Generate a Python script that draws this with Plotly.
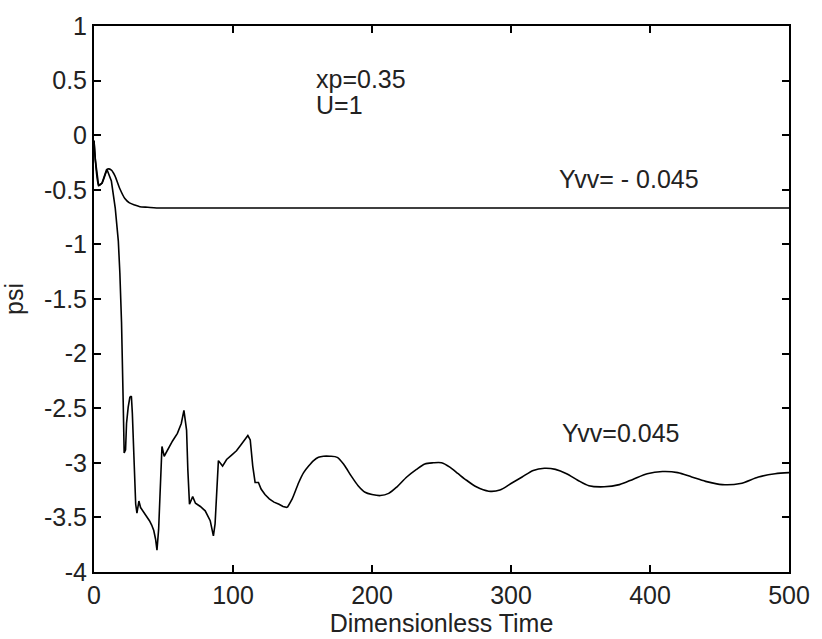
import plotly.graph_objects as go

# ---- data ----
upper_t = [0, 0.5, 1.0, 3.3, 5.7, 9.9, 12.5, 15.0, 18.6, 22.2, 25.5, 29.3, 33.0, 38.7, 45.0, 500]
upper_v = [-0.05, -0.15, -0.23, -0.46, -0.44, -0.31, -0.32, -0.37, -0.49, -0.58, -0.62, -0.64, -0.655, -0.66, -0.667, -0.667]

lower_t = [0, 1, 3.3, 5.7, 9.2, 12.5, 15.3, 17.5, 18.6, 19.8,
           21.0, 21.7, 22.7, 23.4, 24.6, 25.8, 26.9, 27.6, 28.8, 30.0,
           30.9, 32.3, 33.5, 35.2, 37.5, 39.9, 41.5, 43.0, 44.3, 45.3,
           46.5, 47.5, 48.9, 50.5, 52.9, 56.5, 60.0, 62.8, 64.7, 66.6,
           67.5, 68.7, 71.0, 73.0, 76.5, 80.0, 83.6, 85.9, 87.1, 88.3,
           89.5, 92.5, 95.4, 99.0, 102.5, 105.5, 108.4, 110.7, 112.4, 114.2,
           115.9, 118.3, 120.2, 123.0, 126.1, 129.5, 133.1, 136.0, 139.0, 142.6,
           147.3, 150.8, 154.4, 158.0, 161.5, 165.0, 169.7, 175, 180, 185,
           190, 195, 200, 206, 212, 218, 225, 232, 238, 244,
           250, 256, 262, 268, 275, 284, 292, 300, 308, 316,
           324, 332, 340, 348, 356, 367, 378, 388, 398, 409,
           420, 430, 440, 452, 465, 478, 490, 500]
lower_v = [-0.05, -0.23, -0.46, -0.44, -0.31, -0.42, -0.67, -0.97, -1.26, -1.71,
           -2.44, -2.91, -2.88, -2.64, -2.49, -2.40, -2.39, -2.55, -2.97, -3.38,
           -3.46, -3.35, -3.41, -3.44, -3.48, -3.53, -3.57, -3.62, -3.70, -3.80,
           -3.61, -3.24, -2.85, -2.94, -2.88, -2.80, -2.73, -2.64, -2.52, -2.70,
           -3.06, -3.38, -3.31, -3.37, -3.40, -3.44, -3.53, -3.67, -3.56, -3.29,
           -2.98, -3.03, -2.97, -2.93, -2.89, -2.84, -2.79, -2.75, -2.79, -3.03,
           -3.18, -3.18, -3.24, -3.29, -3.33, -3.36, -3.38, -3.40, -3.41, -3.33,
           -3.18, -3.09, -3.03, -2.98, -2.95, -2.94, -2.94, -2.95, -3.02, -3.12,
           -3.21, -3.27, -3.29, -3.30, -3.28, -3.22, -3.13, -3.06, -3.01, -3.00,
           -3.00, -3.04, -3.10, -3.16, -3.22, -3.26, -3.25, -3.19, -3.13, -3.07,
           -3.05, -3.06, -3.10, -3.16, -3.21, -3.22, -3.20, -3.15, -3.10, -3.08,
           -3.09, -3.13, -3.17, -3.20, -3.19, -3.13, -3.10, -3.09]

# the curve is jagged up to this time and smooth afterwards
smooth_from = 139.0

x_ticks = [0, 100, 200, 300, 400, 500]
x_ticktext = ["0", "100", "200", "300", "400", "500"]
y_ticks = [1, 0.5, 0, -0.5, -1, -1.5, -2, -2.5, -3, -3.5, -4]
y_ticktext = ["1", "0.5", "0", "-0.5", "-1", "-1.5", "-2", "-2.5", "-3", "-3.5", "-4"]

labels = ["xp=0.35", "U=1", "Yvv= - 0.045", "Yvv=0.045"]
label_t = [158, 158, 333, 335]
label_v = [0.516, 0.274, -0.398, -2.73]

FONT = "Liberation Sans, Arial, sans-serif"
FS = 25
TXT = "#222"

k = lower_t.index(smooth_from)

fig = go.Figure()
fig.add_trace(go.Scatter(x=upper_t, y=upper_v, mode="lines",
                         line=dict(color="black", width=1.6, shape="spline", smoothing=0.6),
                         showlegend=False))
fig.add_trace(go.Scatter(x=lower_t[:k + 1], y=lower_v[:k + 1], mode="lines",
                         line=dict(color="black", width=1.6), showlegend=False))
fig.add_trace(go.Scatter(x=lower_t[k:], y=lower_v[k:], mode="lines",
                         line=dict(color="black", width=1.6, shape="spline", smoothing=0.8),
                         showlegend=False))

for txt, t, v in zip(labels, label_t, label_v):
    fig.add_annotation(x=t, y=v, xref="x", yref="y", text=txt, showarrow=False,
                       xanchor="left", yanchor="middle",
                       font=dict(family=FONT, size=FS, color=TXT))

axis_common = dict(showline=True, linecolor="black", linewidth=2, mirror="ticks",
                   ticks="inside", ticklen=7, tickwidth=1.5, tickcolor="black",
                   showgrid=False, zeroline=False, ticklabeloverflow="allow",
                   tickfont=dict(family=FONT, size=FS, color=TXT))

fig.update_layout(
    width=822, height=639,
    margin=dict(l=92, r=24, t=14, b=67),
    paper_bgcolor="white", plot_bgcolor="white",
    font=dict(family=FONT, size=FS, color=TXT),
    xaxis=dict(range=[0, 500], tickvals=x_ticks, ticktext=x_ticktext,
               title=dict(text="Dimensionless Time", standoff=0,
                          font=dict(family=FONT, size=FS, color=TXT)),
               **axis_common),
    yaxis=dict(range=[-4, 1], tickvals=y_ticks, ticktext=y_ticktext,
               title=dict(text="psi", standoff=14,
                          font=dict(family=FONT, size=FS, color=TXT)),
               **axis_common),
)

fig.write_html("out.html")
